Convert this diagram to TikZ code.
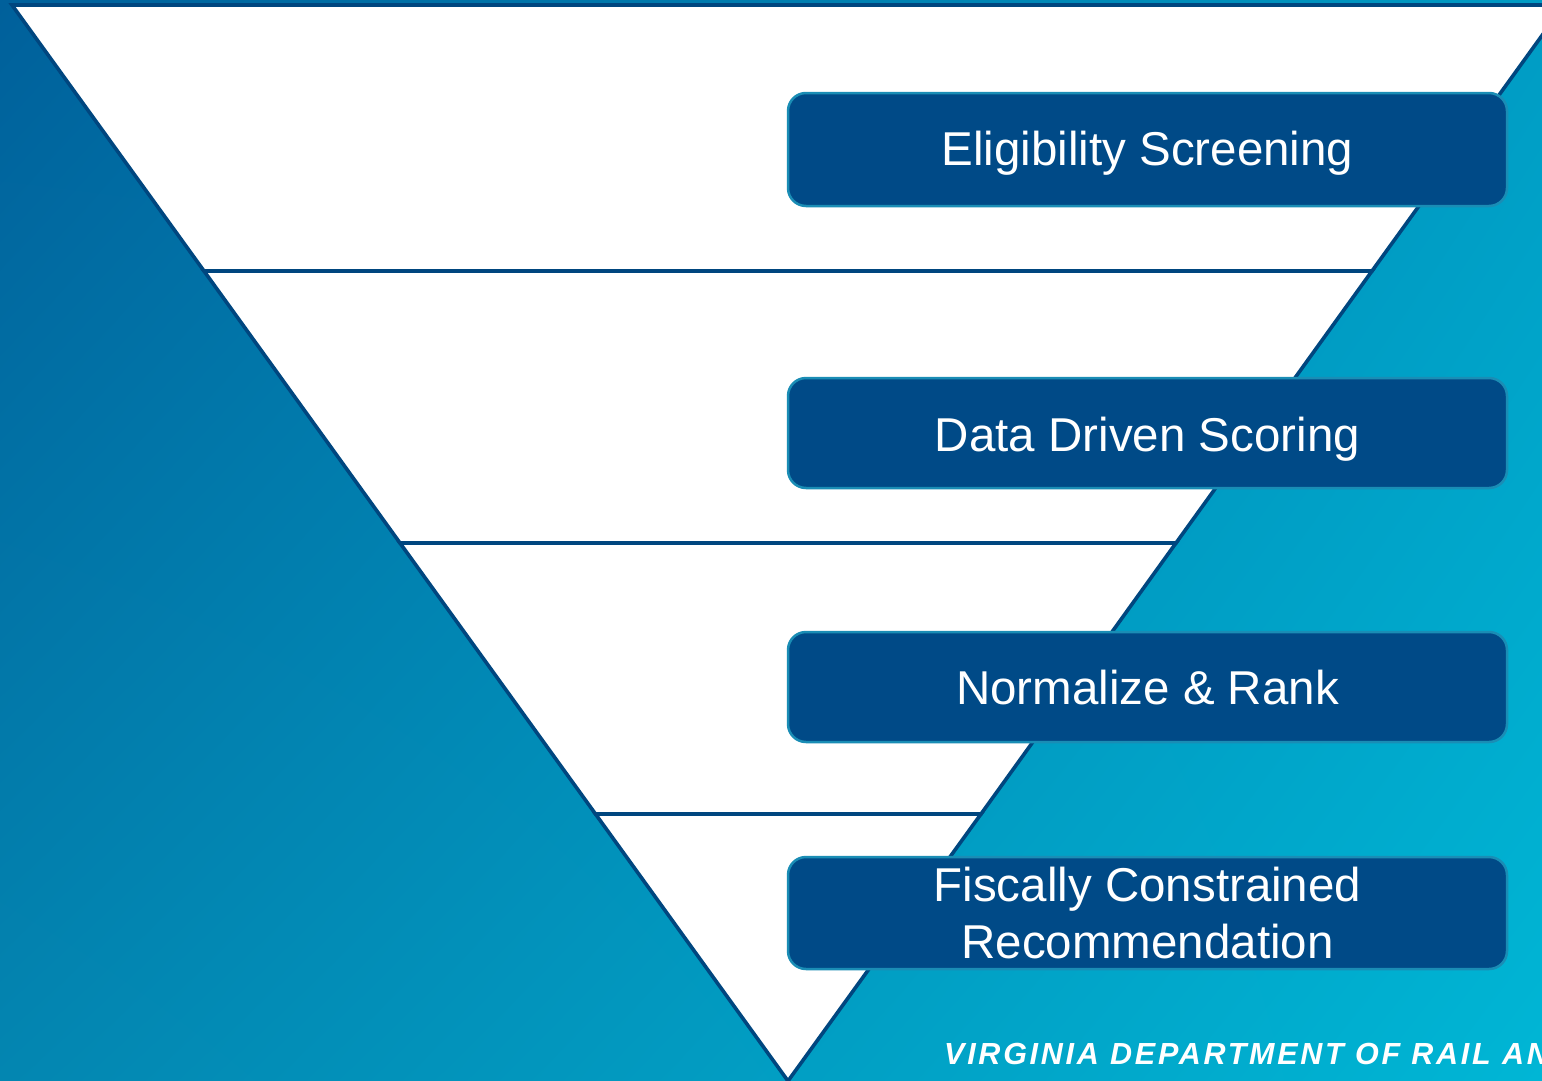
\documentclass[tikz,border=0pt]{standalone}
\usepackage{fontspec}
\usetikzlibrary{shadings}
\setmainfont{Liberation Sans}
\newfontfamily\deptfont[LetterSpace=9]{Liberation Sans}
\definecolor{bgUL}{HTML}{00609B}
\definecolor{bgUR}{HTML}{009CC4}
\definecolor{bgLL}{HTML}{0386B1}
\definecolor{bgLR}{HTML}{00B6D5}
\definecolor{segline}{HTML}{00467F}
\definecolor{boxfill}{HTML}{004A87}
\definecolor{boxedge}{HTML}{1A8DB5}
\newcommand{\baselineat}[2]{\raisebox{-#1}[0pt][0pt]{#2}}
\tikzset{
  seg/.style={fill=white, draw=segline, line width=3.6pt, line join=miter},
  stagebox/.style={draw=boxedge, fill=boxfill, line width=2.5pt, rounded corners=18pt,
    minimum width=719pt, minimum height=#1, inner sep=0pt, text=white,
    font=\fontsize{47.5}{57}\selectfont, align=center},
  stagebox/.default=112pt
}
\begin{document}
\begin{tikzpicture}[x=1pt,y=-1pt]
\useasboundingbox (0,0) rectangle (1542,1081);
\clip (0,0) rectangle (1542,1081);
\shade[upper left=bgUL, upper right=bgUR, lower left=bgLL, lower right=bgLR]
  (0,0) rectangle (1542,1081);
% funnel segments
\draw[seg] (12,5) -- (1564,5) -- (1372,271) -- (204,271) -- cycle;
\draw[seg] (204,271) -- (1372,271) -- (1176,543) -- (400,543) -- cycle;
\draw[seg] (400,543) -- (1176,543) -- (981,814) -- (595.5,814) -- cycle;
\draw[seg] (595.5,814) -- (981,814) -- (788,1081) -- cycle;
% stage boxes
\node[stagebox=113pt] (s1) at (1147.5,149.5) {\baselineat{16pt}{Eligibility Screening}};
\node[stagebox=110pt] (s2) at (1147.5,433) {\baselineat{18pt}{Data Driven Scoring}};
\node[stagebox=110pt] (s3) at (1147.5,687) {\baselineat{17pt}{Normalize \& Rank}};
\node[stagebox=112pt] (s4) at (1147.5,913) {Fiscally Constrained\\Recommendation};
% footer
\node[anchor=base west, inner sep=0pt, text=white,
  font=\deptfont\fontsize{30.5}{35}\selectfont\bfseries\itshape] (dept) at (944,1064)
  {VIRGINIA DEPARTMENT OF RAIL AND};
\end{tikzpicture}
\end{document}
